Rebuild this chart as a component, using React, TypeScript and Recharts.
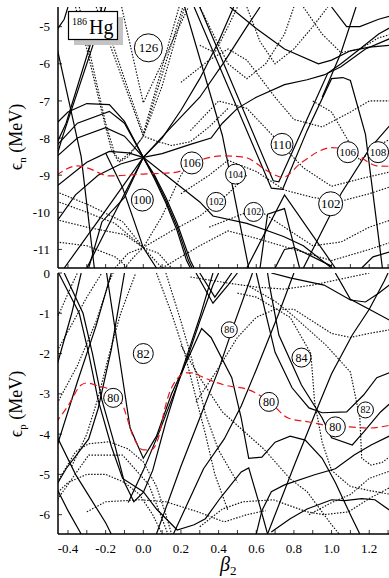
import React from 'react';
import { LineChart, Line, XAxis, YAxis, ReferenceDot } from 'recharts';

type Pt = [number, number];
type Gap = { b: number; e: number; t: string; r: number; fs: number };

const X_DOMAIN: [number, number] = [-0.453, 1.305];
const xTicks = [-0.4, -0.3, -0.2, -0.1, 0, 0.1, 0.2, 0.3, 0.4, 0.5, 0.6, 0.7, 0.8, 0.9, 1.0, 1.1, 1.2, 1.3];
const neutronYTicks = [-11, -10, -9, -8, -7, -6, -5];
const protonYTicks = [-6, -5, -4, -3, -2, -1, 0];
const NEUTRON_Y: [number, number] = [-11.5, -4.47];
const PROTON_Y: [number, number] = [-6.48, 0];

// ---- neutron single-particle levels (solid: positive parity) ----
const neutronSolid: Pt[][] = [
  [[-0.46, -7.6], [-0.4, -7.3], [-0.3, -7.07], [-0.18, -7.1], [-0.1, -7.55], [0, -8.52], [0.06, -9.0], [0.12, -9.6], [0.18, -10.3], [0.25, -11.3], [0.27, -11.5]],
  [[-0.46, -8.2], [-0.35, -7.6], [-0.18, -7.28], [-0.1, -7.6], [0, -8.52], [0.06, -9.05], [0.12, -9.68], [0.18, -10.4], [0.24, -11.3], [0.26, -11.5]],
  [[-0.46, -8.5], [-0.35, -8.0], [-0.2, -7.72], [-0.1, -7.95], [0, -8.52], [0.06, -9.1], [0.12, -9.75], [0.18, -10.5], [0.23, -11.3], [0.25, -11.5]],
  [[-0.46, -9.3], [-0.3, -8.65], [-0.18, -8.36], [-0.08, -8.4], [0, -8.52], [0.12, -9.0], [0.3, -9.72], [0.37, -10.1], [0.55, -10.3], [0.745, -10.65], [0.85, -10.9], [1.0, -11.5]],
  [[-0.42, -11.5], [-0.2, -9.95], [0, -8.52], [0.15, -7.7], [0.3, -6.9], [0.43, -5.95], [0.55, -5.0], [0.62, -4.47]],
  [[-0.3, -11.5], [-0.15, -10.0], [0, -8.52], [0.1, -8.0], [0.2, -7.25], [0.3, -6.4], [0.4, -5.4], [0.48, -4.47]],
  [[-0.46, -10.25], [-0.36, -9.53], [-0.24, -9.0], [-0.12, -8.7], [0, -8.52], [0.1, -8.42], [0.25, -8.17], [0.36, -8.0], [0.42, -7.6], [0.5, -7.2], [0.6, -6.9], [0.75, -6.56], [0.87, -6.43], [0.96, -6.3], [1.05, -6.08], [1.18, -5.6], [1.32, -5.3]],
  [[-0.29, -11.5], [-0.22, -10.26], [-0.1, -9.6], [0, -8.52]],
  [[-0.47, -5.3], [-0.4, -6.9], [-0.33, -8.5], [-0.26, -11.5]],
  [[-0.46, -8.5], [-0.43, -7.98], [-0.2, -4.47]],
  [[-0.46, -8.15], [-0.41, -7.6], [-0.22, -4.47]],
  [[-0.46, -5.1], [-0.42, -4.8], [-0.4, -4.47]],
  [[0.27, -4.47], [0.68, -9.35], [0.74, -9.38], [0.87, -7.8], [1.0, -6.4], [1.06, -6.37], [1.1, -6.45], [1.18, -7.9], [1.27, -11.5]],
  [[0.3, -4.47], [0.69, -9.15], [0.72, -9.18], [0.86, -7.6], [0.98, -6.25], [1.05, -6.0], [1.15, -5.6], [1.25, -5.2], [1.32, -5.0]],
  [[0.22, -4.47], [0.42, -7.93], [0.56, -11.5]],
  [[0.46, -4.47], [0.6, -5.05], [0.75, -5.6], [0.93, -6.0], [1.0, -5.9], [1.1, -5.65], [1.2, -5.55], [1.32, -5.5]],
  [[0.55, -11.5], [0.75, -9.53], [1.02, -11.5]],
  [[0.62, -11.5], [0.66, -10.05], [0.75, -9.9], [0.8, -10.9], [0.83, -11.5]],
  [[0.7, -11.5], [0.75, -11.0], [0.8, -10.95], [1.0, -11.45]],
  [[0.85, -11.5], [1.05, -9.5], [1.2, -8.3], [1.32, -7.6]],
  [[1.16, -11.5], [1.22, -11.2], [1.32, -11.05]],
  [[0.95, -6.9], [1.05, -5.7], [1.13, -4.47]],
  [[1.0, -4.47], [1.08, -5.0], [1.15, -5.0], [1.25, -4.8], [1.32, -4.7]],
  [[-0.2, -8.4], [-0.11, -9.34], [0, -10.95], [0.07, -11.5]],
];

// ---- neutron levels (dotted: negative parity) ----
const neutronDotted: Pt[][] = [
  [[-0.115, -4.47], [0, -7.05], [0.24, -4.47]],
  [[-0.25, -4.47], [0, -7.95], [0.21, -4.47]],
  [[-0.23, -4.47], [0, -7.88], [0.19, -4.47]],
  [[-0.36, -4.47], [-0.3, -5.6], [-0.22, -7.3], [-0.17, -8.3], [-0.13, -8.65], [-0.08, -8.5], [0, -7.95], [0.1, -6.6], [0.2, -4.8], [0.22, -4.47]],
  [[-0.34, -4.47], [-0.28, -5.8], [-0.2, -7.6], [-0.15, -8.45], [-0.12, -8.6], [-0.05, -8.3], [0, -7.95], [0.08, -8.1], [0.15, -8.2], [0.25, -8.1], [0.35, -7.7], [0.45, -7.2]],
  [[0.3, -4.47], [0.45, -6.0], [0.55, -6.4], [0.65, -6.0], [0.75, -5.2], [0.8, -4.47]],
  [[0.2, -6.5], [0.35, -5.9], [0.45, -5.6], [0.55, -5.9], [0.7, -6.9], [0.8, -7.5], [0.95, -7.7], [1.1, -7.3], [1.2, -7.0], [1.32, -7.0]],
  [[0.25, -7.8], [0.4, -7.0], [0.55, -7.2], [0.7, -8.0], [0.85, -8.8], [1.0, -9.3], [1.15, -9.1], [1.32, -8.9]],
  [[0.2, -9.5], [0.35, -9.0], [0.45, -8.6], [0.6, -8.9], [0.75, -9.4], [0.9, -9.6], [1.05, -9.7], [1.2, -9.5], [1.32, -9.3]],
  [[0.35, -10.4], [0.5, -10.1], [0.6, -9.9], [0.75, -10.4], [0.9, -10.9], [1.05, -10.8], [1.2, -10.4], [1.32, -10.2]],
  [[0.1, -11.5], [0.3, -10.9], [0.45, -10.5], [0.6, -10.7], [0.8, -11.0], [1.0, -11.3], [1.2, -11.0], [1.32, -10.8]],
  [[-0.46, -9.7], [-0.3, -10.0], [-0.15, -10.3], [0, -10.95], [0.15, -10.5], [0.3, -10.1], [0.45, -9.5], [0.55, -9.0]],
  [[-0.46, -10.2], [-0.3, -10.4], [-0.1, -10.6], [0, -10.95], [0.1, -11.5]],
  [[-0.15, -11.5], [-0.08, -11.1], [0, -10.95], [0.08, -11.1], [0.15, -11.5]],
  [[-0.1, -11.5], [-0.05, -11.2], [0, -10.95], [0.1, -10.1], [0.2, -9.0], [0.25, -8.6]],
  [[-0.46, -9.45], [-0.29, -9.8], [-0.11, -10.25], [0, -10.95]],
  [[0.3, -5.5], [0.38, -5.7], [0.45, -5.0], [0.5, -4.47]],
  [[0.55, -4.47], [0.62, -5.4], [0.7, -6.0], [0.8, -5.6], [0.9, -5.0], [0.98, -4.47]],
  [[0.85, -4.47], [0.95, -5.2], [1.05, -5.7], [1.15, -5.6], [1.25, -5.3], [1.32, -5.2]],
  [[0.9, -7.0], [1.0, -7.3], [1.08, -8.0], [1.15, -8.6], [1.25, -8.2], [1.32, -8.0]],
  [[-0.46, -10.8], [-0.3, -10.9], [-0.15, -11.2], [-0.08, -11.5]],
];

const neutronFermi: Pt[] = [
  [-0.46, -9.0], [-0.35, -8.75], [-0.3, -8.8], [-0.18, -9.02], [0, -8.97], [0.16, -8.93], [0.24, -8.8], [0.3, -8.6],
  [0.43, -8.48], [0.54, -8.52], [0.67, -8.92], [0.74, -9.06], [0.84, -8.66], [1.0, -8.26], [1.08, -8.3], [1.17, -8.57],
  [1.24, -8.75], [1.32, -8.76],
];

const neutronGaps: Gap[] = [
  { b: 0.027, e: -5.57, t: '126', r: 14, fs: 13 },
  { b: -0.005, e: -9.67, t: '100', r: 11, fs: 12 },
  { b: 0.258, e: -8.67, t: '106', r: 11, fs: 12 },
  { b: 0.387, e: -9.72, t: '102', r: 9.5, fs: 10 },
  { b: 0.49, e: -8.97, t: '104', r: 10, fs: 10 },
  { b: 0.586, e: -9.99, t: '102', r: 9.5, fs: 10 },
  { b: 0.737, e: -8.17, t: '110', r: 11, fs: 13 },
  { b: 0.995, e: -9.77, t: '102', r: 12, fs: 13 },
  { b: 1.086, e: -8.38, t: '106', r: 10.5, fs: 11 },
  { b: 1.247, e: -8.38, t: '108', r: 10.5, fs: 11 },
];

// ---- proton levels ----
const protonSolid: Pt[][] = [
  [[-0.195, 0], [-0.07, -3.85], [0, -4.6], [0.07, -4.05], [0.15, -3.0], [0.24, -2.1], [0.31, -1.38], [0.36, -1.6], [0.47, -2.6], [0.52, -3.6], [0.56, -4.6], [0.63, -4.57], [0.7, -4.2], [0.78, -4.05], [0.86, -4.15], [0.95, -4.6], [1.02, -5.2], [1.1, -6.0], [1.15, -6.48]],
  [[-0.08, -5.7], [0, -4.9], [0.08, -4.0], [0.15, -3.15], [0.22, -2.3], [0.3, -1.2], [0.37, -0.3], [0.4, 0]],
  [[0.6, 0], [0.65, -1.0], [0.7, -1.97], [0.79, -2.85], [0.88, -3.35], [0.95, -3.47], [1.08, -3.45], [1.17, -3.03], [1.24, -2.6], [1.32, -2.45]],
  [[0.66, 0], [0.67, -0.3], [0.72, -1.54], [0.84, -2.78], [0.95, -3.6], [1.0, -4.09], [1.11, -4.27], [1.17, -3.95], [1.26, -3.45], [1.32, -3.2]],
  [[0.66, -6.48], [0.8, -4.8], [0.91, -3.52], [1.0, -2.5], [1.11, -1.54], [1.2, -0.9], [1.28, -0.2], [1.3, 0]],
  [[0.6, -6.48], [0.63, -5.9], [0.68, -5.43], [0.75, -5.26], [0.91, -5.01], [1.02, -4.86], [1.12, -4.52], [1.21, -4.27], [1.32, -4.02]],
  [[0.68, -6.43], [0.78, -6.1], [0.87, -5.86], [1.0, -5.63], [1.07, -5.65], [1.16, -5.6], [1.23, -5.63], [1.32, -5.93]],
  [[-0.42, 0], [-0.32, -1.0], [-0.27, -2.0], [-0.22, -3.15], [-0.15, -4.3], [-0.1, -5.2], [-0.05, -5.68], [0.0, -5.45], [0.05, -4.9], [0.12, -3.7], [0.2, -2.5], [0.3, -1.1], [0.37, 0]],
  [[-0.45, 0], [-0.34, -1.0], [-0.29, -2.0], [-0.24, -3.15], [-0.17, -4.3], [-0.11, -5.1], [0, -5.43], [0.07, -5.86], [0.18, -6.38], [0.27, -6.25], [0.33, -6.1], [0.41, -5.58], [0.52, -4.94], [0.56, -4.84], [0.62, -5.8], [0.66, -6.48]],
  [[-0.465, -2.4], [-0.38, -1.0], [-0.33, 0]],
  [[-0.465, -4.4], [-0.35, -2.7], [-0.25, -1.3], [-0.17, 0]],
  [[-0.465, -4.0], [-0.36, -5.0], [-0.2, -6.2], [-0.17, -6.48]],
  [[-0.465, -5.3], [-0.4, -5.9], [-0.33, -6.48]],
  [[-0.465, -5.3], [-0.41, -4.86], [-0.29, -4.12], [-0.24, -3.37], [-0.17, -1.9], [-0.1, 0]],
  [[0.07, -6.48], [0.2, -4.8], [0.3, -3.6], [0.4, -2.4], [0.48, -1.3], [0.58, 0]],
  [[0.16, -6.48], [0.32, -4.86], [0.43, -4.12], [0.52, -3.3], [0.6, -2.4], [0.66, -1.7], [0.72, -1.0], [0.8, 0]],
  [[0.68, 0], [0.78, -0.12], [0.96, -0.3], [1.1, -0.67], [1.18, -0.72], [1.25, -0.5], [1.32, -0.25]],
  [[1.02, 0], [1.1, -0.65], [1.2, -0.9], [1.32, -1.2]],
  [[0.28, 0], [0.37, -0.75], [0.45, -0.3], [0.5, 0]],
  [[0.3, 0], [0.38, -0.6], [0.44, -0.2], [0.47, 0]],
];

const protonDotted: Pt[][] = [
  [[0.07, 0], [0.15, -1.0], [0.22, -2.0], [0.28, -3.1], [0.33, -4.0], [0.38, -5.0], [0.45, -5.9]],
  [[0.12, 0], [0.2, -1.2], [0.28, -2.5], [0.33, -3.5], [0.4, -4.4], [0.5, -5.2]],
  [[-0.38, -4.8], [-0.3, -4.0], [-0.24, -3.1], [-0.18, -2.0], [-0.12, -1.0], [-0.04, 0]],
  [[-0.465, -2.0], [-0.3, -0.6], [-0.22, 0]],
  [[-0.465, -5.26], [-0.36, -4.44], [-0.29, -4.24], [-0.18, -4.19], [-0.08, -4.37], [0, -4.69], [0.07, -5.3], [0.12, -6.0], [0.15, -6.48]],
  [[-0.465, -5.68], [-0.29, -4.52], [-0.11, -4.52], [0.03, -5.26], [0.12, -6.35], [0.13, -6.48]],
  [[-0.3, -5.93], [-0.2, -5.68], [-0.02, -5.63], [0.12, -5.68], [0.29, -5.93], [0.43, -6.18], [0.55, -6.0], [0.65, -5.9]],
  [[-0.465, -5.5], [-0.4, -5.2], [-0.3, -5.0], [-0.2, -5.0], [-0.1, -5.2], [-0.02, -5.5], [0.05, -6.0], [0.1, -6.48]],
  [[0.55, -0.3], [0.7, -0.7], [0.79, -1.04], [0.97, -1.79], [1.1, -2.46], [1.15, -3.6], [1.16, -4.6], [1.21, -4.77], [1.27, -4.7], [1.32, -4.52]],
  [[0.5, -0.5], [0.6, -0.6], [0.78, -1.1], [0.89, -2.0], [0.91, -3.2], [0.95, -4.2], [1.0, -4.9], [1.1, -5.3], [1.2, -5.4], [1.32, -5.5]],
  [[0.25, -0.1], [0.45, -0.25], [0.6, -0.35], [0.75, -0.4], [0.9, -0.3], [1.0, -0.2], [1.1, -0.1], [1.2, 0]],
  [[0.88, -6.0], [1.0, -5.7], [1.1, -5.5], [1.2, -5.1], [1.32, -4.9]],
  [[0.3, -6.3], [0.42, -5.86], [0.53, -5.68], [0.69, -5.63], [0.87, -5.93], [0.96, -6.0], [1.09, -5.93], [1.2, -5.6], [1.32, -5.3]],
  [[0.2, -1.8], [0.3, -2.6], [0.42, -3.45], [0.64, -4.37], [0.78, -5.11], [0.87, -5.43], [1.0, -6.25], [1.04, -6.48]],
  [[0.28, -3.2], [0.38, -2.5], [0.5, -1.6], [0.6, -1.1], [0.7, -0.9], [0.8, -0.9], [0.9, -1.2], [1.0, -1.5], [1.1, -1.6], [1.2, -1.5], [1.32, -1.4]],
  [[-0.465, -1.2], [-0.38, -0.3], [-0.35, 0]],
  [[-0.465, -3.3], [-0.35, -2.3], [-0.25, -1.2], [-0.18, -0.2], [-0.16, 0]],
];

const protonFermi: Pt[] = [
  [-0.465, -3.72], [-0.4, -3.3], [-0.33, -2.78], [-0.3, -2.73], [-0.23, -2.82], [-0.2, -2.85], [-0.11, -3.28], [-0.05, -4.1],
  [0, -4.39], [0.04, -4.39], [0.08, -4.1], [0.11, -3.45], [0.15, -2.85], [0.23, -2.48], [0.27, -2.48], [0.3, -2.55],
  [0.43, -2.78], [0.56, -2.9], [0.67, -3.2], [0.77, -3.6], [0.88, -3.7], [1.0, -3.8], [1.1, -3.82], [1.19, -3.85], [1.32, -3.77],
];

const protonGaps: Gap[] = [
  { b: 0, e: -2.0, t: '82', r: 10, fs: 13 },
  { b: -0.16, e: -3.1, t: '80', r: 9.5, fs: 12 },
  { b: 0.457, e: -1.41, t: '86', r: 8, fs: 10 },
  { b: 0.84, e: -2.1, t: '84', r: 9.5, fs: 12 },
  { b: 0.667, e: -3.2, t: '80', r: 9.5, fs: 12 },
  { b: 1.02, e: -3.82, t: '80', r: 10, fs: 12 },
  { b: 1.18, e: -3.4, t: '82', r: 8, fs: 10 },
];

const FONT = '"Liberation Serif", "DejaVu Serif", serif';

const toRows = (pts: Pt[]) => pts.map(([x, y]) => ({ x, y }));
const xLabel = (v: number) => (Math.round(v * 10) % 2 === 0 ? v.toFixed(1) : '');
const blank = () => '';

type PanelProps = {
  solid: Pt[][];
  dotted: Pt[][];
  fermi: Pt[];
  gaps: Gap[];
  yDomain: [number, number];
  yTicks: number[];
  height: number;
  bottomAxisH: number;
  showX: boolean;
};

function Panel({ solid, dotted, fermi, gaps, yDomain, yTicks, height, bottomAxisH, showX }: PanelProps) {
  const axisLine = { stroke: '#000', strokeWidth: 1.5 };
  const tickLine = { stroke: '#000', strokeWidth: 0.8 };
  const tickStyle = { fill: '#000', fontSize: 13, fontFamily: FONT };
  return (
    <LineChart width={389} height={height} margin={{ top: 7, right: 0, bottom: 0, left: 0 }}>
      <XAxis xAxisId="b" dataKey="x" type="number" domain={X_DOMAIN} allowDataOverflow ticks={xTicks} interval={0}
        tickFormatter={showX ? xLabel : blank} tickSize={-4} tickMargin={14} height={bottomAxisH}
        axisLine={axisLine} tickLine={tickLine} tick={tickStyle} />
      <XAxis xAxisId="t" orientation="top" dataKey="x" type="number" domain={X_DOMAIN} allowDataOverflow ticks={xTicks} interval={0}
        tickFormatter={blank} tickSize={-4} height={0} axisLine={axisLine} tickLine={tickLine} tick={tickStyle} />
      <YAxis yAxisId="l" type="number" domain={yDomain} allowDataOverflow ticks={yTicks} interval={0}
        tickSize={-4} tickMargin={12} width={58} axisLine={axisLine} tickLine={tickLine} tick={tickStyle} />
      <YAxis yAxisId="r" orientation="right" type="number" domain={yDomain} allowDataOverflow ticks={yTicks} interval={0}
        tickFormatter={blank} tickSize={-4} width={0} axisLine={axisLine} tickLine={tickLine} tick={tickStyle} />
      {dotted.map((pts, i) => (
        <Line key={'d' + i} xAxisId="b" yAxisId="l" data={toRows(pts)} dataKey="y" type="linear" stroke="#111"
          strokeWidth={1.15} strokeDasharray="1.5 1.5" dot={false} activeDot={false} isAnimationActive={false} />
      ))}
      {solid.map((pts, i) => (
        <Line key={'s' + i} xAxisId="b" yAxisId="l" data={toRows(pts)} dataKey="y" type="linear" stroke="#000"
          strokeWidth={1.2} dot={false} activeDot={false} isAnimationActive={false} />
      ))}
      <Line xAxisId="b" yAxisId="l" data={toRows(fermi)} dataKey="y" type="monotone" stroke="#e8161b"
        strokeWidth={1.2} strokeDasharray="7 4" dot={false} activeDot={false} isAnimationActive={false} />
      {gaps.map((g, i) => (
        <ReferenceDot key={'g' + i} xAxisId="b" yAxisId="l" x={g.b} y={g.e} r={g.r}
          shape={(p: any) => (
            <g>
              <circle cx={p.cx} cy={p.cy} r={g.r} fill="#fff" stroke="#000" strokeWidth={1} />
              <text x={p.cx} y={p.cy} dy="0.35em" textAnchor="middle" fontSize={g.fs} fontFamily={FONT}
                fill="#000" style={{ fill: '#000' }}>{g.t}</text>
            </g>
          )} />
      ))}
    </LineChart>
  );
}

export default function App() {
  return (
    <div style={{ position: 'absolute', left: 0, top: 0, width: 389, height: 578, overflow: 'hidden', background: '#fff' }}>
      <div style={{ position: 'absolute', left: 0, top: 0 }}>
        <Panel solid={neutronSolid} dotted={neutronDotted} fermi={neutronFermi} gaps={neutronGaps}
          yDomain={NEUTRON_Y} yTicks={neutronYTicks} height={270} bottomAxisH={2} showX={false} />
      </div>
      <div style={{ position: 'absolute', left: 0, top: 266 }}>
        <Panel solid={protonSolid} dotted={protonDotted} fermi={protonFermi} gaps={protonGaps}
          yDomain={PROTON_Y} yTicks={protonYTicks} height={312} bottomAxisH={44} showX={true} />
      </div>
      <svg width={389} height={578} style={{ position: 'absolute', left: 0, top: 0, pointerEvents: 'none' }}>
        <rect x={74} y={17} width={49} height={28} fill="#c4c4c4" />
        <rect x={68.5} y={11.5} width={49} height={28} fill="#fff" stroke="#000" strokeWidth={1.2} />
        <text x={72} y={24.5} fontSize={10} fontFamily={FONT} fill="#000">186</text>
        <text x={89} y={34} fontSize={20} fontFamily={FONT} fill="#000">Hg</text>
        <text transform="translate(22,137) rotate(-90)" textAnchor="middle" fontSize={18} fontFamily={FONT} fill="#000">
          ϵ<tspan fontSize={11} dy={4}>n</tspan><tspan dy={-4}> (MeV)</tspan>
        </text>
        <text transform="translate(22,404) rotate(-90)" textAnchor="middle" fontSize={18} fontFamily={FONT} fill="#000">
          ϵ<tspan fontSize={11} dy={4}>p</tspan><tspan dy={-4}> (MeV)</tspan>
        </text>
        <text x={220} y={571} fontSize={20} fontStyle="italic" fontFamily={FONT} fill="#000">
          β<tspan fontSize={13} dy={4} fontStyle="normal">2</tspan>
        </text>
      </svg>
    </div>
  );
}
